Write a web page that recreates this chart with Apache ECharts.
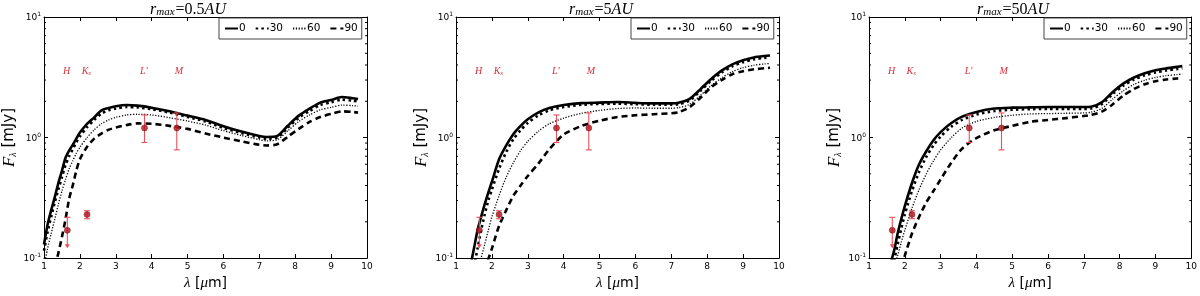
<!DOCTYPE html>
<html><head><meta charset="utf-8">
<script src="https://cdn.jsdelivr.net/npm/echarts@6/dist/echarts.min.js"></script>
<style>html,body{margin:0;padding:0;background:#fff}#c{width:1200px;height:296px}</style>
</head><body><div id="c"></div>
<script>
// ---------- data ----------
const LAMBDA = [1.0,1.1,1.2,1.3,1.4,1.5,1.6,1.7,1.8,1.9,2.0,2.2,2.4,2.6,2.8,3.0,3.3,3.6,4.0,4.5,5.0,5.5,6.0,6.5,7.0,7.2,7.5,7.8,8.1,8.4,8.7,9.0,9.3,9.6,9.75];

// panel 1: r_max = 0.5 AU
const P1_I0  = [0.13,0.19,0.25,0.32,0.42,0.53,0.68,0.78,0.87,0.98,1.10,1.30,1.47,1.68,1.76,1.82,1.86,1.84,1.77,1.65,1.52,1.40,1.24,1.12,1.03,1.01,1.03,1.26,1.52,1.74,1.95,2.05,2.17,2.12,2.09];
const P1_I30 = [0.115,0.165,0.22,0.29,0.37,0.47,0.59,0.70,0.80,0.91,1.02,1.22,1.40,1.58,1.68,1.74,1.79,1.78,1.72,1.61,1.48,1.36,1.20,1.09,1.00,0.98,1.00,1.21,1.46,1.66,1.86,1.96,2.06,2.02,1.99];
const P1_I60 = [0.085,0.12,0.16,0.21,0.28,0.36,0.45,0.55,0.64,0.74,0.83,1.00,1.16,1.30,1.40,1.47,1.54,1.56,1.54,1.46,1.37,1.27,1.14,1.04,0.96,0.94,0.96,1.14,1.36,1.54,1.70,1.78,1.86,1.84,1.82];
const P1_I90 = [0.05,0.06,0.07,0.085,0.11,0.15,0.21,0.31,0.40,0.53,0.66,0.84,0.98,1.08,1.16,1.21,1.27,1.31,1.30,1.25,1.18,1.08,1.00,0.93,0.87,0.86,0.88,1.02,1.18,1.35,1.48,1.57,1.65,1.63,1.61];

// panel 2: r_max = 5 AU
const P2_I0  = [null,null,null,null,0.085,0.12,0.17,0.22,0.28,0.35,0.43,0.66,0.86,1.07,1.25,1.42,1.62,1.76,1.86,1.93,1.95,1.97,1.94,1.92,1.92,1.94,2.08,2.50,3.05,3.59,4.05,4.38,4.62,4.75,4.79];
const P2_I30 = [null,null,null,null,null,0.085,0.12,0.17,0.23,0.30,0.37,0.55,0.76,0.97,1.15,1.32,1.53,1.68,1.79,1.87,1.90,1.91,1.89,1.87,1.87,1.89,2.02,2.42,2.94,3.45,3.90,4.22,4.45,4.58,4.62];
const P2_I60 = [null,null,null,null,null,null,0.075,0.10,0.13,0.17,0.22,0.33,0.47,0.62,0.78,0.93,1.13,1.30,1.45,1.59,1.68,1.74,1.76,1.75,1.75,1.77,1.88,2.22,2.68,3.12,3.52,3.80,3.98,4.08,4.11];
const P2_I90 = [null,null,null,null,null,null,null,null,0.08,0.098,0.12,0.185,0.25,0.33,0.40,0.48,0.61,0.80,1.06,1.25,1.38,1.48,1.53,1.56,1.59,1.62,1.78,2.12,2.60,3.00,3.35,3.55,3.68,3.76,3.79];

// panel 3: r_max = 50 AU
const P3_I0  = [null,null,null,null,null,null,0.09,0.115,0.16,0.21,0.27,0.42,0.60,0.77,0.95,1.11,1.32,1.49,1.63,1.74,1.77,1.78,1.79,1.79,1.79,1.80,1.96,2.38,2.80,3.15,3.42,3.62,3.75,3.86,3.91];
const P3_I30 = [null,null,null,null,null,null,null,0.095,0.13,0.175,0.23,0.36,0.52,0.69,0.86,1.02,1.23,1.40,1.55,1.66,1.70,1.72,1.73,1.73,1.73,1.74,1.89,2.29,2.69,3.03,3.28,3.47,3.60,3.70,3.75];
const P3_I60 = [null,null,null,null,null,null,null,0.085,0.105,0.135,0.17,0.26,0.37,0.50,0.64,0.79,1.00,1.20,1.36,1.47,1.53,1.57,1.58,1.59,1.60,1.62,1.74,2.08,2.44,2.76,2.99,3.15,3.26,3.33,3.36];
const P3_I90 = [null,null,null,null,null,null,null,null,null,0.085,0.105,0.16,0.22,0.29,0.36,0.45,0.62,0.81,0.99,1.15,1.25,1.35,1.40,1.45,1.51,1.54,1.64,1.88,2.23,2.53,2.77,2.93,3.03,3.09,3.12];

const PANEL_TITLES = ['0.5', '5', '50'];
const SERIES_NAMES = ['0', '30', '60', '90'];

// observed photometry
const OBS_LAMBDA = [1.65, 2.2, 3.8, 4.7];
const OBS_FLUX   = [0.17, 0.23, 1.2, 1.2];
const OBS_LOW    = [0.123, 0.212, 0.91, 0.79];
const OBS_HIGH   = [0.218, 0.247, 1.54, 1.60];
const OBS_ARROW  = [1, 0, 0, 0];

const BAND_NAMES  = ['H', 'K', "L'", 'M'];
const BAND_SUB    = ['', 's', '', ''];
const BAND_LAMBDA = [1.63, 2.18, 3.78, 4.76];
const BAND_FLUX   = 3.55;

const Y_MINOR = [0.2,0.3,0.4,0.5,0.6,0.7,0.8,0.9,2,3,4,5,6,7,8,9];

// ---------- layout / style ----------
const PANELS = [
  [P1_I0, P1_I30, P1_I60, P1_I90],
  [P2_I0, P2_I30, P2_I60, P2_I90],
  [P3_I0, P3_I30, P3_I60, P3_I90]
];
const GRID_LEFT = [44, 456, 869];
const GRID_W = 323, GRID_TOP = 17, GRID_H = 250;
const TITLE_X = [188, 601, 1013];
const LEGEND_LEFT = [219, 631, 1044];
const LINE_STYLES = [
  {width: 2.6, type: 'solid'},
  {width: 2.6, type: [2.5, 3.2]},
  {width: 1.3, type: [1.2, 1.6]},
  {width: 2.6, type: [6, 4]}
];
const SERIF = '"Liberation Serif", "DejaVu Serif", serif';
const SANS = '"DejaVu Sans", sans-serif';
const RED_PT = '#b0141e', RED_BAR = '#e8505a', RED_TXT = '#d8303a';

const grids = [], xAxes = [], yAxes = [], series = [], legends = [], graphics = [];
const nP = PANELS.length;

function axisCommon() {
  return {
    axisLine: {show: true, onZero: false, lineStyle: {color: '#000', width: 1}},
    axisTick: {show: true, inside: true, length: 4, lineStyle: {color: '#000', width: 1}},
    splitLine: {show: false}
  };
}

for (let p = 0; p < nP; p++) {
  grids.push({left: GRID_LEFT[p], top: GRID_TOP, width: GRID_W, height: GRID_H, containLabel: false});
  xAxes.push(Object.assign(axisCommon(), {
    gridIndex: p, type: 'value', min: 1, max: 10, interval: 1, position: 'bottom',
    axisLabel: {color: '#000', fontSize: 9, fontFamily: SANS, margin: 4},
    name: '{i|λ} [{i|μ}m]', nameLocation: 'middle', nameGap: 14,
    nameTextStyle: {color: '#000', fontSize: 14, fontFamily: SANS,
      rich: {i: {fontFamily: SERIF, fontStyle: 'italic', fontSize: 15}}}
  }));
  yAxes.push(Object.assign(axisCommon(), {
    gridIndex: p, type: 'log', logBase: 10, min: 0.1, max: 10, position: 'left',
    axisLabel: {color: '#000', margin: 3, fontFamily: SANS,
      formatter: v => '{b|10}{e|' + Math.round(Math.log10(v)) + '}',
      rich: {b: {fontSize: 9, fontFamily: SANS, color: '#000', verticalAlign: 'bottom'},
             e: {fontSize: 6, fontFamily: SANS, color: '#000', verticalAlign: 'top', padding: [0,0,5,0]}}},
    name: '{i|F}{s|λ} [mJy]', nameLocation: 'middle', nameGap: 26, nameRotate: 90,
    nameTextStyle: {color: '#000', fontSize: 15, fontFamily: SANS,
      rich: {i: {fontFamily: SERIF, fontStyle: 'italic', fontSize: 17, verticalAlign: 'bottom'},
             s: {fontFamily: SERIF, fontStyle: 'italic', fontSize: 10, verticalAlign: 'bottom', padding: [4,0,0,0]}}}
  }));
}
for (let p = 0; p < nP; p++) {
  xAxes.push(Object.assign(axisCommon(), {
    gridIndex: p, type: 'value', min: 1, max: 10, interval: 1, position: 'top',
    axisLabel: {show: false}
  }));
  yAxes.push(Object.assign(axisCommon(), {
    gridIndex: p, type: 'log', logBase: 10, min: 0.1, max: 10, position: 'right',
    axisLabel: {show: false}
  }));
}

for (let p = 0; p < nP; p++) {
  // model curves
  PANELS[p].forEach((vals, k) => {
    series.push({
      name: SERIES_NAMES[k], type: 'line', xAxisIndex: p, yAxisIndex: p,
      data: LAMBDA.map((l, i) => [l, vals[i]]).filter(d => d[1] !== null),
      showSymbol: false, symbol: 'none', clip: true, animation: false, smooth: 0.25,
      lineStyle: Object.assign({color: '#000', cap: 'butt', join: 'round'}, LINE_STYLES[k]),
      itemStyle: {color: '#000'}, z: 3 + (3 - k)
    });
  });
  // minor log ticks (left & right)
  series.push({
    type: 'custom', xAxisIndex: p, yAxisIndex: p, silent: true, animation: false,
    data: Y_MINOR.map(v => [1, v]),
    renderItem: (params, api) => {
      const y = api.coord([1, api.value(1)])[1];
      const xl = api.coord([1, 1])[0], xr = api.coord([10, 1])[0];
      const st = {stroke: '#000', lineWidth: 1};
      return {type: 'group', children: [
        {type: 'line', shape: {x1: xl, y1: y, x2: xl + 2, y2: y}, style: st},
        {type: 'line', shape: {x1: xr, y1: y, x2: xr - 2, y2: y}, style: st}
      ]};
    }
  });
  // error bars
  series.push({
    type: 'custom', xAxisIndex: p, yAxisIndex: p, silent: true, animation: false, z: 8,
    data: OBS_LAMBDA.map((l, i) => [l, OBS_LOW[i], OBS_HIGH[i], OBS_ARROW[i]]),
    renderItem: (params, api) => {
      const x = api.value(0);
      const lo = api.coord([x, api.value(1)]), hi = api.coord([x, api.value(2)]);
      const st = {stroke: RED_BAR, lineWidth: 1.1};
      const c = [
        {type: 'line', shape: {x1: lo[0], y1: lo[1], x2: hi[0], y2: hi[1]}, style: st},
        {type: 'line', shape: {x1: hi[0] - 3, y1: hi[1], x2: hi[0] + 3, y2: hi[1]}, style: st}
      ];
      if (api.value(3)) {
        c.push({type: 'polygon', shape: {points: [[lo[0] - 2.5, lo[1] - 3], [lo[0] + 2.5, lo[1] - 3], [lo[0], lo[1] + 1]]},
                style: {fill: RED_BAR}});
      } else {
        c.push({type: 'line', shape: {x1: lo[0] - 3, y1: lo[1], x2: lo[0] + 3, y2: lo[1]}, style: st});
      }
      return {type: 'group', children: c};
    }
  });
  // points
  series.push({
    type: 'scatter', xAxisIndex: p, yAxisIndex: p, symbol: 'circle', symbolSize: 6, z: 9, animation: false,
    data: OBS_LAMBDA.map((l, i) => [l, OBS_FLUX[i]]),
    itemStyle: {color: RED_PT, borderColor: '#7a0a10', borderWidth: 0.6}
  });
  // band labels
  series.push({
    type: 'custom', xAxisIndex: p, yAxisIndex: p, silent: true, animation: false,
    data: BAND_LAMBDA.map((l, i) => [l, BAND_FLUX, i]),
    renderItem: (params, api) => {
      const pt = api.coord([api.value(0), api.value(1)]);
      const i = api.value(2);
      return {type: 'text', x: pt[0], y: pt[1], style: {
        text: '{m|' + BAND_NAMES[i] + '}' + (BAND_SUB[i] ? '{s|' + BAND_SUB[i] + '}' : ''),
        align: 'center', verticalAlign: 'middle',
        rich: {m: {fontFamily: SERIF, fontStyle: 'italic', fontSize: 10, fill: RED_TXT, verticalAlign: 'bottom'},
               s: {fontFamily: SERIF, fontStyle: 'italic', fontSize: 7, fill: RED_TXT, verticalAlign: 'bottom', padding: [3,0,0,0]}}
      }};
    }
  });
  legends.push({
    left: LEGEND_LEFT[p], top: 18, orient: 'horizontal', data: SERIES_NAMES, width: 200,
    backgroundColor: '#fff', borderColor: '#444', borderWidth: 1, borderRadius: 0,
    padding: [5, 4, 5, 5], itemGap: 9, itemWidth: 13, itemHeight: 9, selectedMode: false,
    itemStyle: {opacity: 0},
    textStyle: {color: '#000', fontSize: 10.5, fontFamily: SANS, padding: [0, 0, 0, -4]}
  });
  graphics.push({
    type: 'text', x: TITLE_X[p], y: 9, style: {
      text: '{i|r}{s|max}{n|=' + PANEL_TITLES[p] + '}{i|AU}',
      align: 'center', verticalAlign: 'middle',
      rich: {i: {fontFamily: SERIF, fontStyle: 'italic', fontSize: 16, fill: '#000', verticalAlign: 'bottom'},
             s: {fontFamily: SERIF, fontStyle: 'italic', fontSize: 11, fill: '#000', verticalAlign: 'bottom', padding: [6,1,0,0]},
             n: {fontFamily: SERIF, fontSize: 16, fill: '#000', verticalAlign: 'bottom'}}
    }
  });
}

const chart = echarts.init(document.getElementById('c'), null, {renderer: 'canvas'});
chart.setOption({
  backgroundColor: '#fff', animation: false,
  grid: grids, xAxis: xAxes, yAxis: yAxes, series: series, legend: legends, graphic: graphics
});
</script></body></html>
